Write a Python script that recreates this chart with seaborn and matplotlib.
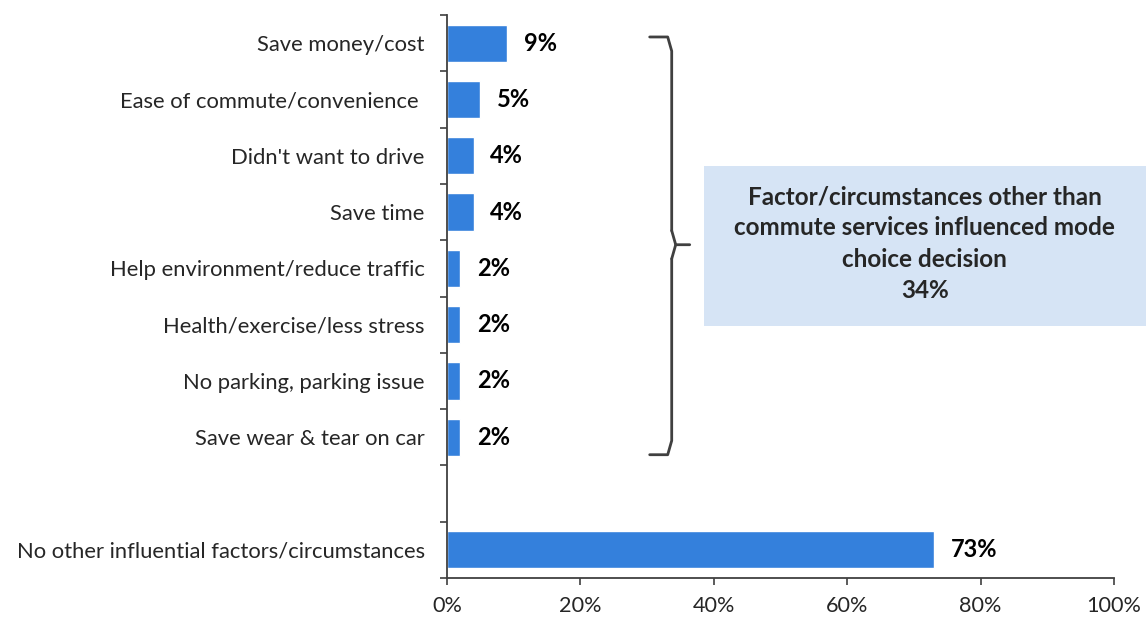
import matplotlib
matplotlib.use("Agg")
import matplotlib.pyplot as plt
import matplotlib.ticker as mticker
from matplotlib.patches import Rectangle
import seaborn as sns
import pandas as pd
import numpy as np

# reasons shown, blank slot keeps the gap before the last bar
reasons = ["Save money/cost", "Ease of commute/convenience ", "Didn't want to drive",
           "Save time", "Help environment/reduce traffic", "Health/exercise/less stress",
           "No parking, parking issue", "Save wear & tear on car"]
gap_label = " "
last_reason = "No other influential factors/circumstances"
values = [9, 5, 4, 4, 2, 2, 2, 2]
last_value = 73
x_ticks = [0, 20, 40, 60, 80, 100]
box_title = "Factor/circumstances other than\ncommute services influenced mode\nchoice decision\n34%"

order = reasons + [gap_label, last_reason]
df = pd.DataFrame({"reason": reasons + [last_reason], "pct": values + [last_value]})

sns.set_style("white")
plt.rcParams['font.family'] = ['Lato', 'DejaVu Sans']

fig = plt.figure(figsize=(11.46, 6.18), dpi=100)
ax = fig.add_axes([0.390, 0.0647, 0.582, 0.911])

sns.barplot(data=df, y="reason", x="pct", order=order, color="#3480DC",
            width=0.66, ax=ax, saturation=1, orient="h")

for cont in ax.containers:
    labs = []
    for bar in cont:
        w = bar.get_width()
        labs.append("" if np.isnan(w) or w == 0 else f"{w:.0f}%")
    ax.bar_label(cont, labels=labs, padding=12, fontsize=17, fontweight="bold", color="black")

ax.set_xlim(0, 100)
ax.set_ylim(len(order) - 0.5, -0.5)
ax.set_xticks(x_ticks)
ax.xaxis.set_major_formatter(mticker.FuncFormatter(lambda v, p: f"{v:.0f}%"))
ax.set_xlabel("")
ax.set_ylabel("")

# ticks between categories on the y axis
ax.set_yticks(np.arange(-0.5, len(order), 1.0), minor=True)
ax.tick_params(axis="y", which="major", length=0, pad=16, labelsize=15.8)
ax.tick_params(axis="y", which="minor", length=5, width=1.2, color="#404040", direction="out", left=True)
ax.tick_params(axis="x", which="major", length=5, width=1.2, color="#404040", pad=8,
               labelsize=15.6, direction="out", bottom=True)

for s in ["top", "right"]:
    ax.spines[s].set_visible(False)
for s in ["left", "bottom"]:
    ax.spines[s].set_color("#404040")
    ax.spines[s].set_linewidth(1.3)

# curly bracket next to the small bars
bx0, bx1, btip = 30.4, 33.7, 36.4
ytop, ybot, ymid = -0.11, 7.31, 3.58
r = 0.25
brace_kw = dict(color="#404040", lw=2, solid_capstyle="round", clip_on=False)
ax.plot([bx0, bx1 - 0.6, bx1, bx1], [ytop, ytop, ytop + r, ymid - r], **brace_kw)
ax.plot([bx1, bx1 + 0.6, btip], [ymid - r, ymid, ymid], **brace_kw)
ax.plot([bx1, bx1 + 0.6], [ymid + r, ymid], **brace_kw)
ax.plot([bx0, bx1 - 0.6, bx1, bx1], [ybot, ybot, ybot - r, ymid + r], **brace_kw)

# summary box
fig.patches.append(Rectangle((0.614, 0.472), 0.386, 0.259, transform=fig.transFigure,
                             facecolor="#D6E4F5", edgecolor="none", zorder=0))
fig.text(0.807, 0.606, box_title, ha="center", va="center", fontsize=17.5,
         fontweight="bold", linespacing=1.43)

fig.savefig("out.png", dpi=100)
